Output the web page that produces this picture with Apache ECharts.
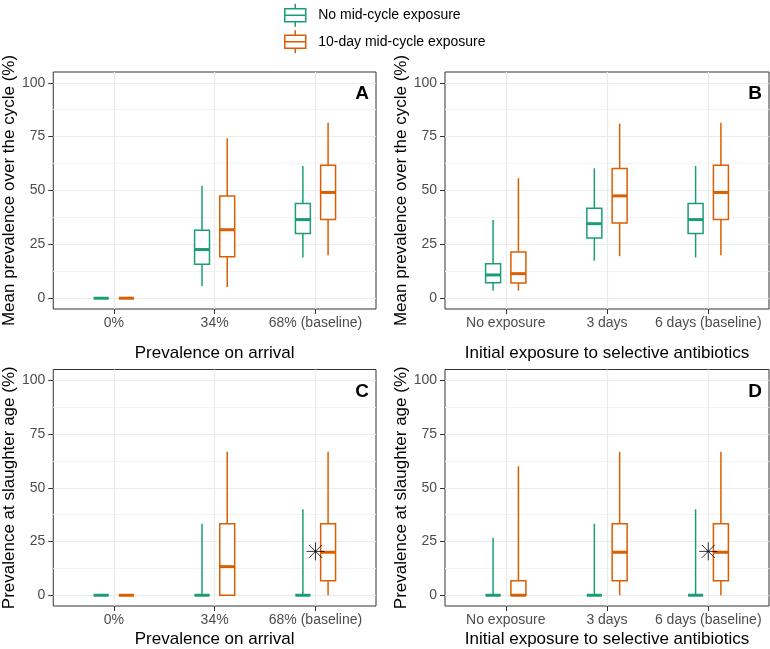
<!DOCTYPE html>
<html>
<head>
<meta charset="utf-8">
<script src="https://cdn.jsdelivr.net/npm/echarts@6/dist/echarts.min.js"></script>
<style>
html,body{margin:0;padding:0;background:#fff;}
#chart{width:770px;height:649px;}
</style>
</head>
<body>
<div id="chart"></div>
<script>
// ---------- data ----------
const arrivalCategories = ['0%', '34%', '68% (baseline)'];
const exposureCategories = ['No exposure', '3 days', '6 days (baseline)'];
const seriesNames = ['No mid-cycle exposure', '10-day mid-cycle exposure'];
const yTicks = [0, 25, 50, 75, 100];
const yGridValues = [0, 12.5, 25, 37.5, 50, 62.5, 75, 87.5, 100];

// box statistics per category: [lower whisker, Q1, median, Q3, upper whisker]
const meanArrivalNone = [[0, 0, 0, 0, 0], [5.7, 15.8, 22.6, 31.5, 52.2], [18.9, 30, 36.5, 44, 61.4]];
const meanArrivalMid = [[0, 0, 0, 0, 0], [5.2, 19.2, 31.8, 47.5, 74.2], [20, 36.5, 49.1, 61.7, 81.5]];
const meanExposureNone = [[3.5, 7.2, 10.8, 16, 36.3], [17.4, 28, 34.6, 41.8, 60.3], [18.9, 30, 36.5, 44, 61.4]];
const meanExposureMid = [[3.5, 7.1, 11.4, 21.5, 55.7], [19.5, 34.9, 47.5, 60.2, 81.1], [20, 36.5, 49.1, 61.7, 81.5]];
const slaughterArrivalNone = [[0, 0, 0, 0, 0], [0, 0, 0, 0, 33.3], [0, 0, 0, 0, 40]];
const slaughterArrivalMid = [[0, 0, 0, 0, 0], [0, 0, 13.3, 33.3, 66.7], [0, 6.7, 20, 33.3, 66.7]];
const slaughterExposureNone = [[0, 0, 0, 0, 26.7], [0, 0, 0, 0, 33.3], [0, 0, 0, 0, 40]];
const slaughterExposureMid = [[0, 0, 0, 6.7, 60], [0, 6.7, 20, 33.3, 66.7], [0, 6.7, 20, 33.3, 66.7]];
// observed value (asterisk) at the baseline category
const observedCategory = [2];
const observedSlaughter = [20.4];

// ---------- styles / layout ----------
const GREEN = '#1B9E77';
const ORANGE = '#D95F02';
const FONT = 'Liberation Sans';
const BOX_HALF = 0.074;
const DODGE = 0.125;

const panels = [
  {left: 52, top: 72, height: 237, cats: arrivalCategories, xName: 'Prevalence on arrival', xGap: 36, yName: 'Mean prevalence over the cycle (%)', none: meanArrivalNone, mid: meanArrivalMid, letter: 'A', star: false},
  {left: 445, top: 72, height: 237, cats: exposureCategories, xName: 'Initial exposure to selective antibiotics', xGap: 36, yName: 'Mean prevalence over the cycle (%)', none: meanExposureNone, mid: meanExposureMid, letter: 'B', star: false},
  {left: 52, top: 369.5, height: 238, cats: arrivalCategories, xName: 'Prevalence on arrival', xGap: 25, yName: 'Prevalence at slaughter age (%)', none: slaughterArrivalNone, mid: slaughterArrivalMid, letter: 'C', star: true},
  {left: 445, top: 369.5, height: 238, cats: exposureCategories, xName: 'Initial exposure to selective antibiotics', xGap: 25, yName: 'Prevalence at slaughter age (%)', none: slaughterExposureNone, mid: slaughterExposureMid, letter: 'D', star: true}
];
const PANEL_W = 324;

function boxSeries(name, color, stats, dodge, g) {
  return {
    type: 'custom',
    name: name,
    xAxisIndex: g,
    yAxisIndex: g * 2 + 1,
    itemStyle: {color: color},
    clip: false,
    data: stats.map(function (s, i) { return [i].concat(s); }),
    encode: {x: 0, y: [1, 2, 3, 4, 5]},
    renderItem: function (params, api) {
      const xc = api.value(0) + dodge;
      const lo = api.coord([xc, api.value(1)]);
      const q1 = api.coord([xc, api.value(2)]);
      const md = api.coord([xc, api.value(3)]);
      const q3 = api.coord([xc, api.value(4)]);
      const hi = api.coord([xc, api.value(5)]);
      const hw = api.size([BOX_HALF, 0])[0];
      return {
        type: 'group',
        children: [
          {type: 'line', shape: {x1: lo[0], y1: lo[1], x2: q1[0], y2: q1[1]}, style: {stroke: color, lineWidth: 1.5}},
          {type: 'line', shape: {x1: q3[0], y1: q3[1], x2: hi[0], y2: hi[1]}, style: {stroke: color, lineWidth: 1.5}},
          {type: 'rect', shape: {x: q1[0] - hw, y: q3[1], width: 2 * hw, height: q1[1] - q3[1]}, style: {fill: '#fff', stroke: color, lineWidth: 1.5}},
          {type: 'line', shape: {x1: md[0] - hw, y1: md[1], x2: md[0] + hw, y2: md[1]}, style: {stroke: color, lineWidth: 3}}
        ]
      };
    }
  };
}

const grids = [], xAxes = [], yAxes = [], series = [], graphics = [];
panels.forEach(function (p, g) {
  grids.push({left: p.left, top: p.top, width: PANEL_W, height: p.height, show: true, borderColor: '#333', borderWidth: 1, backgroundColor: '#fff', containLabel: false});
  xAxes.push({
    type: 'value', gridIndex: g, min: -0.6, max: 2.6,
    axisLine: {show: false, onZero: false},
    axisTick: {show: true, customValues: [0, 1, 2], length: 5, lineStyle: {color: '#333', width: 1}},
    axisLabel: {customValues: [0, 1, 2], formatter: (function (cats) { return function (v) { return cats[Math.round(v)]; }; })(p.cats), fontSize: 14, color: '#4D4D4D', margin: 7, fontFamily: FONT},
    splitLine: {show: true, lineStyle: {color: '#EBEBEB', width: 1.2}},
    name: p.xName, nameLocation: 'middle', nameGap: p.xGap,
    nameTextStyle: {fontSize: 17, color: '#000', fontFamily: FONT}
  });
  yAxes.push({
    type: 'value', gridIndex: g, min: -5, max: 105, position: 'left',
    axisLine: {show: false, onZero: false},
    axisTick: {show: false, customValues: yGridValues},
    axisLabel: {show: false, customValues: yGridValues},
    splitLine: {show: true, lineStyle: {color: ['#EBEBEB', '#F3F3F3'], width: 1.2}}
  });
  yAxes.push({
    type: 'value', gridIndex: g, min: -5, max: 105, position: 'left', offset: 0,
    axisLine: {show: false, onZero: false},
    axisTick: {show: true, customValues: yTicks, length: 5, lineStyle: {color: '#333', width: 1}},
    axisLabel: {customValues: yTicks, fontSize: 14, color: '#4D4D4D', margin: 8, fontFamily: FONT},
    splitLine: {show: false},
    name: p.yName, nameLocation: 'middle', nameGap: 35,
    nameTextStyle: {fontSize: 17, color: '#000', fontFamily: FONT}
  });
  series.push(boxSeries(seriesNames[0], GREEN, p.none, -DODGE, g));
  series.push(boxSeries(seriesNames[1], ORANGE, p.mid, DODGE, g));
  if (p.star) {
    series.push({
      type: 'scatter', name: 'observed', xAxisIndex: g, yAxisIndex: g * 2 + 1, z: 5,
      data: observedCategory.map(function (c, i) { return [c, observedSlaughter[i]]; }),
      symbol: 'path://M0,-1L0,1M-1,0L1,0M-0.72,-0.72L0.72,0.72M-0.72,0.72L0.72,-0.72',
      symbolSize: 18,
      itemStyle: {color: 'rgba(0,0,0,0)', borderColor: '#000', borderWidth: 1},
      silent: true
    });
  }
  graphics.push({
    type: 'text', x: p.left + PANEL_W - 7, y: p.top + 22, z: 10,
    style: {text: p.letter, textAlign: 'right', textVerticalAlign: 'middle', font: 'bold 19px "' + FONT + '"', fill: '#000'}
  });
});

const legendIcon = 'path://M10.5,0L10.5,5M0,5L21,5L21,18L0,18ZM0,11.5L21,11.5M10.5,18L10.5,23';

const option = {
  animation: false,
  backgroundColor: '#fff',
  textStyle: {fontFamily: FONT},
  legend: {
    orient: 'vertical', left: 284, top: 3, padding: 0,
    itemWidth: 24, itemHeight: 23, itemGap: 2,
    textStyle: {fontSize: 14, color: '#000', fontFamily: FONT, padding: [0, 0, 0, 6]},
    data: [
      {name: seriesNames[0], icon: legendIcon, itemStyle: {color: '#fff', borderColor: GREEN, borderWidth: 1.5}},
      {name: seriesNames[1], icon: legendIcon, itemStyle: {color: '#fff', borderColor: ORANGE, borderWidth: 1.5}}
    ],
    selectedMode: false
  },
  grid: grids,
  xAxis: xAxes,
  yAxis: yAxes,
  series: series,
  graphic: graphics
};

const chart = echarts.init(document.getElementById('chart'), null, {renderer: 'canvas'});
chart.setOption(option);
</script>
</body>
</html>
